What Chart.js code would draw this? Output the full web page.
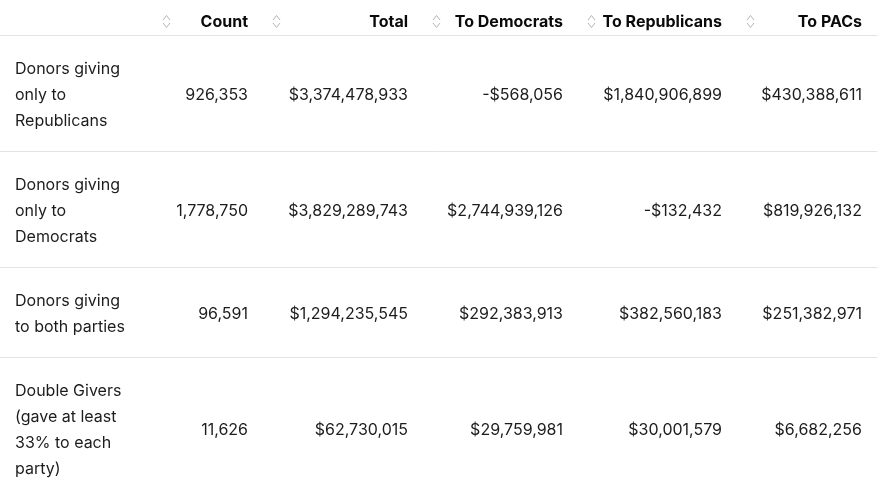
<!DOCTYPE html>
<html>
<head>
<meta charset="utf-8">
<script src="https://cdn.jsdelivr.net/npm/chart.js@4.4.1/dist/chart.umd.min.js"></script>
<style>
  html, body { margin: 0; padding: 0; background: #fff; }
  #wrap { width: 877px; height: 487px; position: relative; }
</style>
</head>
<body>
<div id="wrap"><canvas id="tabla"></canvas></div>
<script>
// Datos de la tabla
const columnas = ['Count', 'Total', 'To Democrats', 'To Republicans', 'To PACs'];
const filas = [
    ['Donors giving', 'only to', 'Republicans'],
    ['Donors giving', 'only to', 'Democrats'],
    ['Donors giving', 'to both parties'],
    ['Double Givers', '(gave at least', '33% to each', 'party)']
];
const conteo = [926353, 1778750, 96591, 11626];
const total = [3374478933, 3829289743, 1294235545, 62730015];
const aDemocratas = [-568056, 2744939126, 292383913, 29759981];
const aRepublicanos = [1840906899, -132432, 382560183, 30001579];
const aPACs = [430388611, 819926132, 251382971, 6682256];

// Layout (en px del lienzo)
const ANCHO = 877, ALTO = 487;
const anchosCol = [153, 110, 160, 155, 159, 140];
const altoCabecera = 35;
const altoLinea = 26;
const padArriba = 20, padAbajo = 18, padLado = 15;

const bordes = [0];
anchosCol.forEach(w => bordes.push(bordes[bordes.length - 1] + w));

// Filas: arriba, centro y límites
const arribaFila = [];
let y = altoCabecera;
filas.forEach(lineas => {
    arribaFila.push(y);
    y += padArriba + lineas.length * altoLinea + padAbajo;
});
const limites = [altoCabecera, ...arribaFila.slice(1)];

const fmtNum = v => v.toLocaleString('en-US');
const fmtDinero = v => (v < 0 ? '-$' : '$') + Math.abs(v).toLocaleString('en-US');

const series = [
    { valores: conteo, fmt: fmtNum },
    { valores: total, fmt: fmtDinero },
    { valores: aDemocratas, fmt: fmtDinero },
    { valores: aRepublicanos, fmt: fmtDinero },
    { valores: aPACs, fmt: fmtDinero }
];

const datasets = series.map((s, c) => ({
    label: columnas[c],
    data: s.valores.map((v, r) => ({
        x: bordes[c + 2] - padLado,
        y: arribaFila[r] + padArriba + filas[r].length * altoLinea / 2,
        texto: s.fmt(v)
    })),
    pointRadius: 0,
    pointHoverRadius: 0
}));

const FUENTE = 'Inter, "Noto Sans", sans-serif';

const pluginTabla = {
    id: 'tabla',
    afterDatasetsDraw(chart) {
        const ctx = chart.ctx;
        const sx = chart.scales.x, sy = chart.scales.y;
        ctx.save();

        // Cabecera
        ctx.textBaseline = 'middle';
        ctx.font = 'bold 16px ' + FUENTE;
        ctx.fillStyle = '#0a0a0a';
        ctx.textAlign = 'right';
        const yCab = sy.getPixelForValue(22);
        columnas.forEach((nombre, c) => {
            ctx.fillText(nombre, sx.getPixelForValue(bordes[c + 2] - padLado), yCab);
            // icono de orden
            const ix = Math.round(sx.getPixelForValue(bordes[c + 1] + 13)) + 0.5;
            const iy = Math.round(yCab) - 0.5;
            ctx.strokeStyle = '#b3b3b3';
            ctx.lineWidth = 1;
            ctx.beginPath();
            ctx.moveTo(ix - 3.5, iy - 1.5); ctx.lineTo(ix, iy - 6); ctx.lineTo(ix + 3.5, iy - 1.5);
            ctx.moveTo(ix - 3.5, iy + 1.5); ctx.lineTo(ix, iy + 6); ctx.lineTo(ix + 3.5, iy + 1.5);
            ctx.stroke();
        });

        // Etiquetas de fila
        ctx.font = '16px ' + FUENTE;
        ctx.fillStyle = '#1c1c1c';
        ctx.textAlign = 'left';
        filas.forEach((lineas, r) => {
            lineas.forEach((t, i) => {
                const yy = arribaFila[r] + padArriba + altoLinea * (i + 0.5);
                ctx.fillText(t, sx.getPixelForValue(padLado), sy.getPixelForValue(yy) + 1);
            });
        });

        // Valores
        ctx.textAlign = 'right';
        chart.data.datasets.forEach((ds, i) => {
            const meta = chart.getDatasetMeta(i);
            meta.data.forEach((pt, j) => {
                ctx.fillText(ds.data[j].texto, pt.x, pt.y + 1);
            });
        });
        ctx.restore();
    }
};

new Chart(document.getElementById('tabla'), {
    type: 'scatter',
    data: { datasets },
    options: {
        responsive: true,
        maintainAspectRatio: false,
        animation: false,
        layout: { padding: 0 },
        plugins: { legend: { display: false }, tooltip: { enabled: false } },
        events: [],
        scales: {
            x: { type: 'linear', min: 0, max: ANCHO, display: false },
            y: {
                type: 'linear', min: 0, max: ALTO, reverse: true,
                afterBuildTicks: s => { s.ticks = limites.map(v => ({ value: v })); },
                ticks: { display: false },
                border: { display: false },
                grid: { color: '#e3e3e3', lineWidth: 1, drawTicks: false }
            }
        }
    },
    plugins: [pluginTabla]
});
</script>
</body>
</html>
